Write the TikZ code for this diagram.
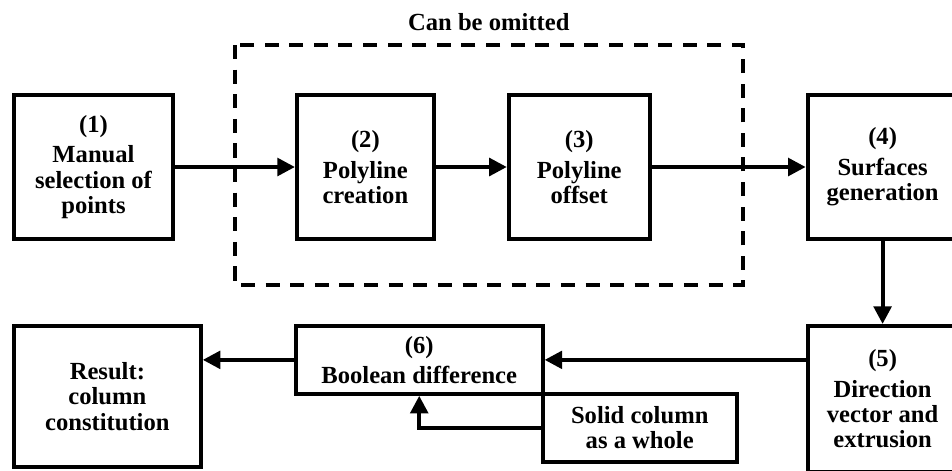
\documentclass[tikz,border=0pt]{standalone}
\usepackage{fontspec}
\setmainfont{Liberation Serif}
\usepackage{tikz}
\usetikzlibrary{positioning,arrows.meta,calc}

\begin{document}
\begin{tikzpicture}[
  font=\fontsize{14}{14.4}\selectfont\bfseries,
  box/.style={draw, line width=2.2pt, align=center, inner sep=2pt},
  bigbox/.style={box, minimum height=2.88cm},
  flatbox/.style={box, minimum height=1.36cm},
  arr/.style={-{Triangle[length=10pt,width=10pt]}, line width=2.2pt},
  dashbox/.style={line width=2.2pt, dash pattern=on 8pt off 6pt}
]
  \useasboundingbox (0,0) rectangle (19.04,-9.4);
  \clip (0,0) rectangle (19.04,-9.4);

  % top row
  \node[bigbox, minimum width=3.18cm] (select) at (1.87,-3.34) {(1)\\[3pt]Manual\\selection of\\points};
  \node[bigbox, minimum width=2.74cm, right=2.4cm of select] (poly) {(2)\\[3pt]Polyline\\creation};
  \node[bigbox, minimum width=2.82cm, right=1.42cm of poly] (offset) {(3)\\[3pt]Polyline\\offset};
  \node[bigbox, minimum width=3.0cm, right=3.08cm of offset] (surf) {(4)\\[3pt]Surfaces\\generation};

  % bottom row
  \node[bigbox, minimum width=3.0cm, minimum height=2.92cm, below=1.66cm of surf] (extrude) {(5)\\[3pt]Direction\\vector and\\extrusion};
  \node[flatbox, minimum width=4.94cm, left=5.22cm of extrude.north west, anchor=north east] (boolean) {(6)\\[3pt]Boolean difference};
  \node[flatbox, minimum width=3.88cm, anchor=north west, xshift=-2.2pt, yshift=2.2pt] (solid) at (boolean.south east) {Solid column\\as a whole};
  \node[bigbox, minimum width=3.74cm, minimum height=2.82cm, left=1.82cm of boolean.north west, anchor=north east] (result) {Result:\\column\\constitution};

  % optional part
  \coordinate (dnw) at ($(poly.north west)+(-1.2,0.96)$);
  \coordinate (dse) at ($(offset.south east)+(1.82,-0.88)$);
  \draw[dashbox] (dnw) rectangle (dse);
  \node (omit) at ($(dnw)!0.5!(dnw -| dse)+(0,0.46)$) {Can be omitted};

  \draw[arr] (select) -- (poly);
  \draw[arr] (poly) -- (offset);
  \draw[arr] (offset) -- (surf);
  \draw[arr] (surf) -- (extrude);
  \draw[arr] (extrude.west |- boolean.east) -- (boolean.east);
  \draw[arr] (boolean.west) -- (result.east |- boolean.west);
  \draw[arr] (solid.west) -| (boolean.south);
\end{tikzpicture}
\end{document}
